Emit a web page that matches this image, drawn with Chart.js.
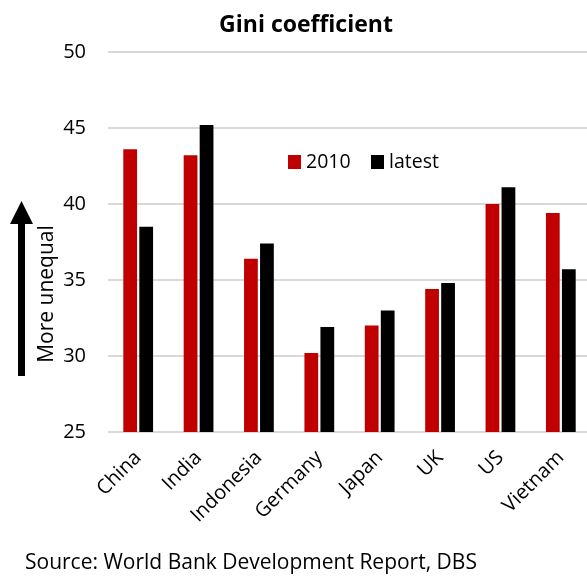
<!DOCTYPE html>
<html><head><meta charset="utf-8">
<script src="https://cdn.jsdelivr.net/npm/chart.js@4"></script>
<style>html,body{margin:0;padding:0;background:#fff;overflow:hidden;} canvas{display:block}</style>
</head><body>
<canvas id="c" width="591" height="576"></canvas>
<script>
// Gini coefficient by country: 2010 vs latest available reading
const countries = ['China', 'India', 'Indonesia', 'Germany', 'Japan', 'UK', 'US', 'Vietnam'];
const gini2010 = [43.6, 43.2, 36.4, 30.2, 32.0, 34.4, 40.0, 39.4];
const giniLatest = [38.5, 45.2, 37.4, 31.9, 33.0, 34.8, 41.1, 35.7];
const seriesNames = ['2010', 'latest'];
const yTickValues = [25, 30, 35, 40, 45, 50];

const FONT = "'Open Sans', sans-serif";

// Title, side arrow, inline legend and source note
const decorations = {
  id: 'decorations',
  afterDraw(chart) {
    const ctx = chart.ctx;
    ctx.save();
    ctx.fillStyle = '#000';

    // title
    ctx.font = 'bold 23px ' + FONT;
    ctx.textAlign = 'center';
    ctx.textBaseline = 'middle';
    ctx.fillText('Gini coefficient', 306, 25);

    // upward arrow
    ctx.fillRect(18, 222, 7, 154);
    ctx.beginPath();
    ctx.moveTo(21.5, 201);
    ctx.lineTo(33, 224);
    ctx.lineTo(10, 224);
    ctx.closePath();
    ctx.fill();

    // rotated axis note
    ctx.save();
    ctx.translate(47, 294);
    ctx.rotate(-Math.PI / 2);
    ctx.font = '21px ' + FONT;
    ctx.fillText('More unequal', 0, 0);
    ctx.restore();

    // legend inside plot
    ctx.font = '19.5px ' + FONT;
    ctx.textAlign = 'left';
    const starts = [288, 371];
    chart.data.datasets.forEach((ds, i) => {
      ctx.fillStyle = ds.backgroundColor;
      ctx.fillRect(starts[i], 155, 13, 14);
      ctx.fillStyle = '#000';
      ctx.fillText(ds.label, starts[i] + 18, 162);
    });

    // source note
    ctx.font = '21px ' + FONT;
    ctx.textAlign = 'left';
    ctx.fillText('Source: World Bank Development Report, DBS', 25, 563);
    ctx.restore();
  }
};

new Chart(document.getElementById('c'), {
  type: 'bar',
  data: {
    labels: countries,
    datasets: [
      { label: seriesNames[0], data: gini2010, backgroundColor: '#c00000' },
      { label: seriesNames[1], data: giniLatest, backgroundColor: '#000000' }
    ]
  },
  options: {
    responsive: false,
    animation: false,
    devicePixelRatio: 1,
    layout: { padding: { top: 52, left: 0, right: 0, bottom: 0 } },
    datasets: { bar: { categoryPercentage: 0.53, barPercentage: 0.86 } },
    plugins: {
      legend: { display: false },
      title: { display: false },
      tooltip: { enabled: false }
    },
    scales: {
      x: {
        grid: { display: false },
        border: { display: false },
        ticks: {
          color: '#000',
          font: { family: FONT, size: 20 },
          minRotation: 45,
          maxRotation: 45,
          padding: 6
        },
        afterFit(s) { s.height = 144; }
      },
      y: {
        min: 25,
        max: 50,
        afterBuildTicks(s) { s.ticks = yTickValues.map(v => ({ value: v })); },
        grid: { color: '#d9d9d9', lineWidth: 2, drawTicks: false },
        border: { display: false },
        ticks: {
          color: '#000',
          font: { family: FONT, size: 20 },
          padding: 22
        },
        afterFit(s) { s.width = 108; }
      }
    }
  },
  plugins: [decorations]
});
</script>
</body></html>
